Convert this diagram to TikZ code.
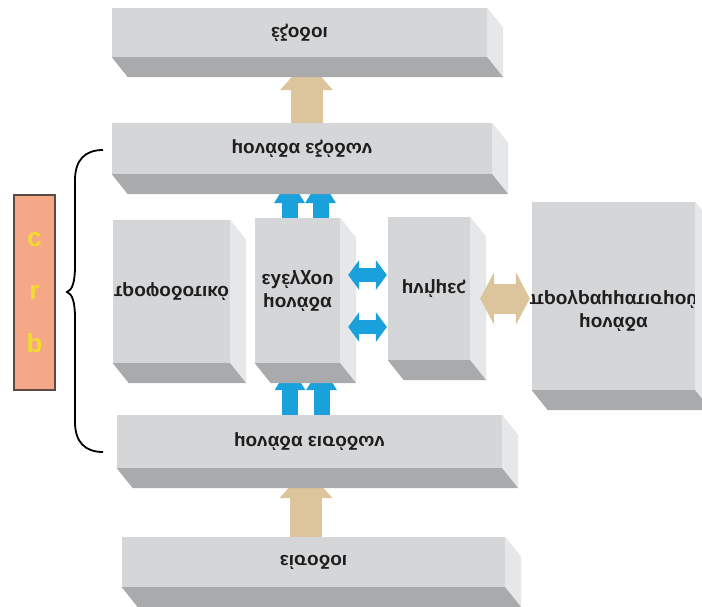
\documentclass[tikz,border=0pt]{standalone}
\usepackage{fontspec}
\setmainfont{Liberation Sans}
\usetikzlibrary{calc,arrows.meta,backgrounds}
\definecolor{frontc}{HTML}{D5D6D8}
\definecolor{botc}{HTML}{A9AAAC}
\definecolor{sidec}{HTML}{E6E7E9}
\definecolor{tanc}{HTML}{DCC49C}
\definecolor{bluec}{HTML}{1AA0DA}
\definecolor{cpuc}{HTML}{F4A888}
\definecolor{cpub}{HTML}{5B4B42}
\definecolor{cpul}{HTML}{F2DC2A}
\definecolor{txtc}{HTML}{1E1E1E}
\newcommand{\flipt}[1]{\scalebox{1}[-1]{#1}}
\newcommand{\blockfaces}[1]{%
  \fill[sidec] (#1.north east) -- ($(#1.north east)+(16,20)$) -- ($(#1.south east)+(16,20)$) -- (#1.south east) -- cycle;
  \fill[botc] (#1.south west) -- (#1.south east) -- ($(#1.south east)+(16,20)$) -- ($(#1.south west)+(16,20)$) -- cycle;}
\begin{document}
\begin{tikzpicture}[x=1pt,y=-1pt,
  front/.style={fill=frontc, inner sep=0pt, text=txtc, font=\bfseries\fontsize{19}{22}\selectfont, align=center},
  txt/.style={inner sep=0pt, text=txtc, font=\bfseries\fontsize{19}{22}\selectfont, align=center},
  tanarr/.style={draw=tanc, line width=32pt, -{Triangle[width=53pt,length=30pt,line width=0pt]}},
  tandarr/.style={draw=tanc, line width=30pt, {Triangle[width=53pt,length=14pt,line width=0pt]}-{Triangle[width=53pt,length=14pt,line width=0pt]}},
  bluearr/.style={draw=bluec, line width=16pt, -{Triangle[width=31pt,length=25pt,line width=0pt]}},
  bluedarr/.style={draw=bluec, line width=14pt, {Triangle[width=30pt,length=11pt,line width=0pt]}-{Triangle[width=30pt,length=11pt,line width=0pt]}},
  brace/.style={draw=black, line width=1.8pt},
  cpubox/.style={fill=cpuc, draw=cpub, line width=1.2pt, inner sep=0pt, text=cpul, align=center, font=\bfseries\fontsize{26}{53}\selectfont}
]
\useasboundingbox (0,0) rectangle (702,607);

% blocks
\node[front, minimum width=375, minimum height=49] (out) at (299.5,32.5) {\flipt{έξοδοι}};
\node[front, minimum width=380, minimum height=51] (outu) at (302,148.5) {\flipt{μονάδα εξόδων}};
\node[front, minimum width=117, minimum height=143] (psu) at (171.5,291.5) {\flipt{τροφοδοτικό}};
\node[front, minimum width=85, minimum height=145] (cu) at (297.5,290.5) {\flipt{\begin{tabular}{@{}c@{}}μονάδα\\[1pt]ελέγχου\end{tabular}}};
\node[front, minimum width=82, minimum height=143] (mem) at (429,288.5) {\hspace{10pt}\flipt{μνήμες}};
\node[front, minimum width=163, minimum height=188] (io) at (613.5,296) {};
\node[txt] (iotext) at (613.5,310) {\flipt{\begin{tabular}{@{}c@{}}μονάδα\\[1pt]προγραμματισμού\end{tabular}}};
\node[front, minimum width=385, minimum height=53] (inu) at (309.5,441.5) {\flipt{μονάδα εισόδων}};
\node[front, minimum width=383, minimum height=50] (in) at (313.5,562) {\flipt{είσοδοι}};

\blockfaces{out}
\blockfaces{outu}
\blockfaces{psu}
\blockfaces{cu}
\blockfaces{mem}
\blockfaces{io}
\blockfaces{inu}
\blockfaces{in}

% horizontal arrows in front of the side faces
\draw[bluedarr] ($(cu.east)+(8,-15.5)$) -- ($(mem.west)+(-1,-13.5)$);
\draw[bluedarr] ($(cu.east)+(8,36.5)$) -- ($(mem.west)+(-1,38.5)$);
\draw[tandarr] ($(mem.east)+(10,10)$) -- ($(io.west)+(-2,2.5)$);

% CPU label and brace
\node[cpubox, minimum width=41, minimum height=195] (cpu) at (34.5,292.5) {c\\r\\b};
\coordinate (bt) at (103,150);
\coordinate (bm) at (67,292);
\coordinate (bb) at (103,452);
\draw[brace] (bt) .. controls (85,150) and (75,160) .. (75,180) -- (75,266)
  .. controls (75,283) and (72,290) .. (bm)
  .. controls (72,294) and (75,301) .. (75,318) -- (75,422)
  .. controls (75,442) and (85,452) .. (bb);

\begin{pgfonlayer}{background}
\fill[white] (0,0) rectangle (702,607);
\draw[tanarr] ($(outu.north)+(4.5,0)$) -- ($(out.south)+(7,3)$);
\draw[tanarr] ($(in.north)+(-7.5,0)$) -- ($(inu.south)+(-3.5,0)$);
\draw[bluearr] ($(cu.north)+(-8,0)$) -- ($(outu.south)+(-12.5,4)$);
\draw[bluearr] ($(cu.north)+(23,0)$) -- ($(outu.south)+(18.5,4)$);
\draw[bluearr] ($(inu.north)+(-19.5,0)$) -- ($(cu.south)+(-7.5,2)$);
\draw[bluearr] ($(inu.north)+(12,0)$) -- ($(cu.south)+(24,2)$);
\end{pgfonlayer}
\end{tikzpicture}
\end{document}
